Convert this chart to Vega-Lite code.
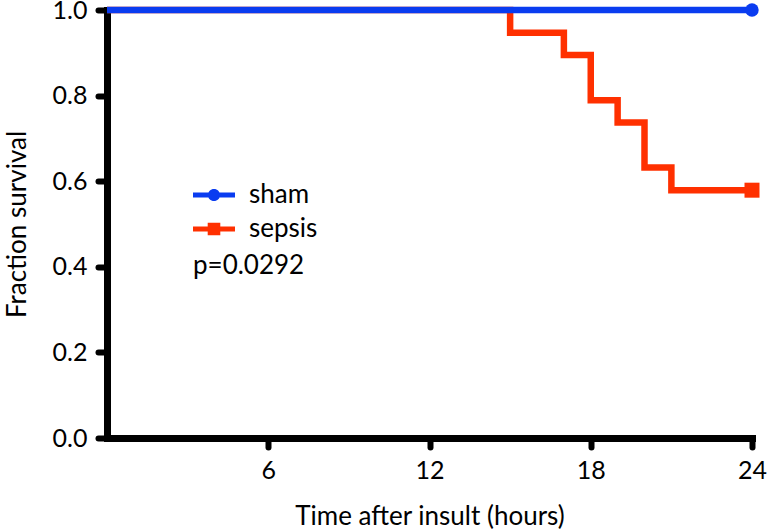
{
  "$schema": "https://vega.github.io/schema/vega-lite/v6.json",
  "width": 645,
  "height": 428,
  "autosize": {"type": "none"},
  "padding": {"left": 107, "top": 10, "right": 15, "bottom": 94},
  "config": {
    "view": {"stroke": null},
    "font": "Lato",
    "axis": {
      "domainColor": "black", "domainWidth": 7, "domainCap": "square",
      "tickColor": "black", "tickWidth": 6, "tickSize": 9, "tickCap": "round",
      "labelFont": "Lato", "labelFontSize": 25, "labelColor": "black",
      "titleFont": "Lato", "titleFontSize": 26, "titleFontWeight": "normal", "titleColor": "black",
      "grid": false, "labelFlush": false, "labelOverlap": false, "labelBound": false
    }
  },
  "data": {
    "values": [
      {"group": "sepsis", "time": 0, "survival": 1.0},
      {"group": "sepsis", "time": 15, "survival": 0.947},
      {"group": "sepsis", "time": 17, "survival": 0.895},
      {"group": "sepsis", "time": 18, "survival": 0.789},
      {"group": "sepsis", "time": 19, "survival": 0.737},
      {"group": "sepsis", "time": 20, "survival": 0.632},
      {"group": "sepsis", "time": 21, "survival": 0.579},
      {"group": "sepsis", "time": 24, "survival": 0.579},
      {"group": "sham", "time": 0, "survival": 1.0},
      {"group": "sham", "time": 24, "survival": 1.0}
    ]
  },
  "encoding": {
    "x": {
      "field": "time", "type": "quantitative",
      "scale": {"domain": [0, 24], "nice": false},
      "axis": {"values": [6, 12, 18, 24], "labelPadding": 11, "title": "Time after insult (hours)", "titlePadding": 20}
    },
    "y": {
      "field": "survival", "type": "quantitative",
      "scale": {"domain": [0, 1], "nice": false},
      "axis": {"values": [0, 0.2, 0.4, 0.6, 0.8, 1.0], "format": ".1f", "labelPadding": 11, "title": "Fraction survival", "titleX": -90, "titleBaseline": "middle"}
    },
    "color": {
      "field": "group", "type": "nominal",
      "scale": {"domain": ["sham", "sepsis"], "range": ["#0a3cf0", "#ff3000"]},
      "legend": {
        "orient": "none", "legendX": 86, "legendY": 164,
        "title": "p=0.0292", "titleOrient": "bottom", "titleFontSize": 26, "titleFontWeight": "normal",
        "titleColor": "black", "titleFont": "Lato", "titlePadding": 11,
        "labelFontSize": 26, "labelFont": "Lato", "labelColor": "black", "labelOffset": 14,
        "symbolSize": 1764, "symbolType": "M-1,-0.12H1V0.12H-1Z", "symbolStrokeWidth": 0,
        "padding": 0, "rowPadding": -8,
        "encode": {
          "symbols": {
            "update": {
              "shape": {"signal": "datum.value === 'sham' ? 'M-1,-0.12H1V0.12H-1Z M-0.29,0A0.29,0.29 0 1,1 0.29,0A0.29,0.29 0 1,1 -0.29,0Z' : 'M-1,-0.12H1V0.12H-1Z M-0.3,-0.3H0.3V0.3H-0.3Z'"},
              "fill": {"signal": "scale('color', datum.value)"},
              "stroke": {"value": "transparent"},
              "strokeWidth": {"value": 0},
              "opacity": {"value": 1}
            }
          }
        }
      }
    }
  },
  "layer": [
    {
      "mark": {"type": "line", "interpolate": "step-after", "strokeWidth": 6.5, "strokeJoin": "miter", "strokeCap": "butt", "clip": false}
    },
    {
      "transform": [{"filter": "datum.time == 24 && datum.group == 'sham'"}],
      "mark": {"type": "circle", "opacity": 1, "clip": false, "size": 180}
    },
    {
      "transform": [{"filter": "datum.time == 24 && datum.group == 'sepsis'"}],
      "mark": {"type": "square", "opacity": 1, "clip": false, "size": 225}
    }
  ]
}
